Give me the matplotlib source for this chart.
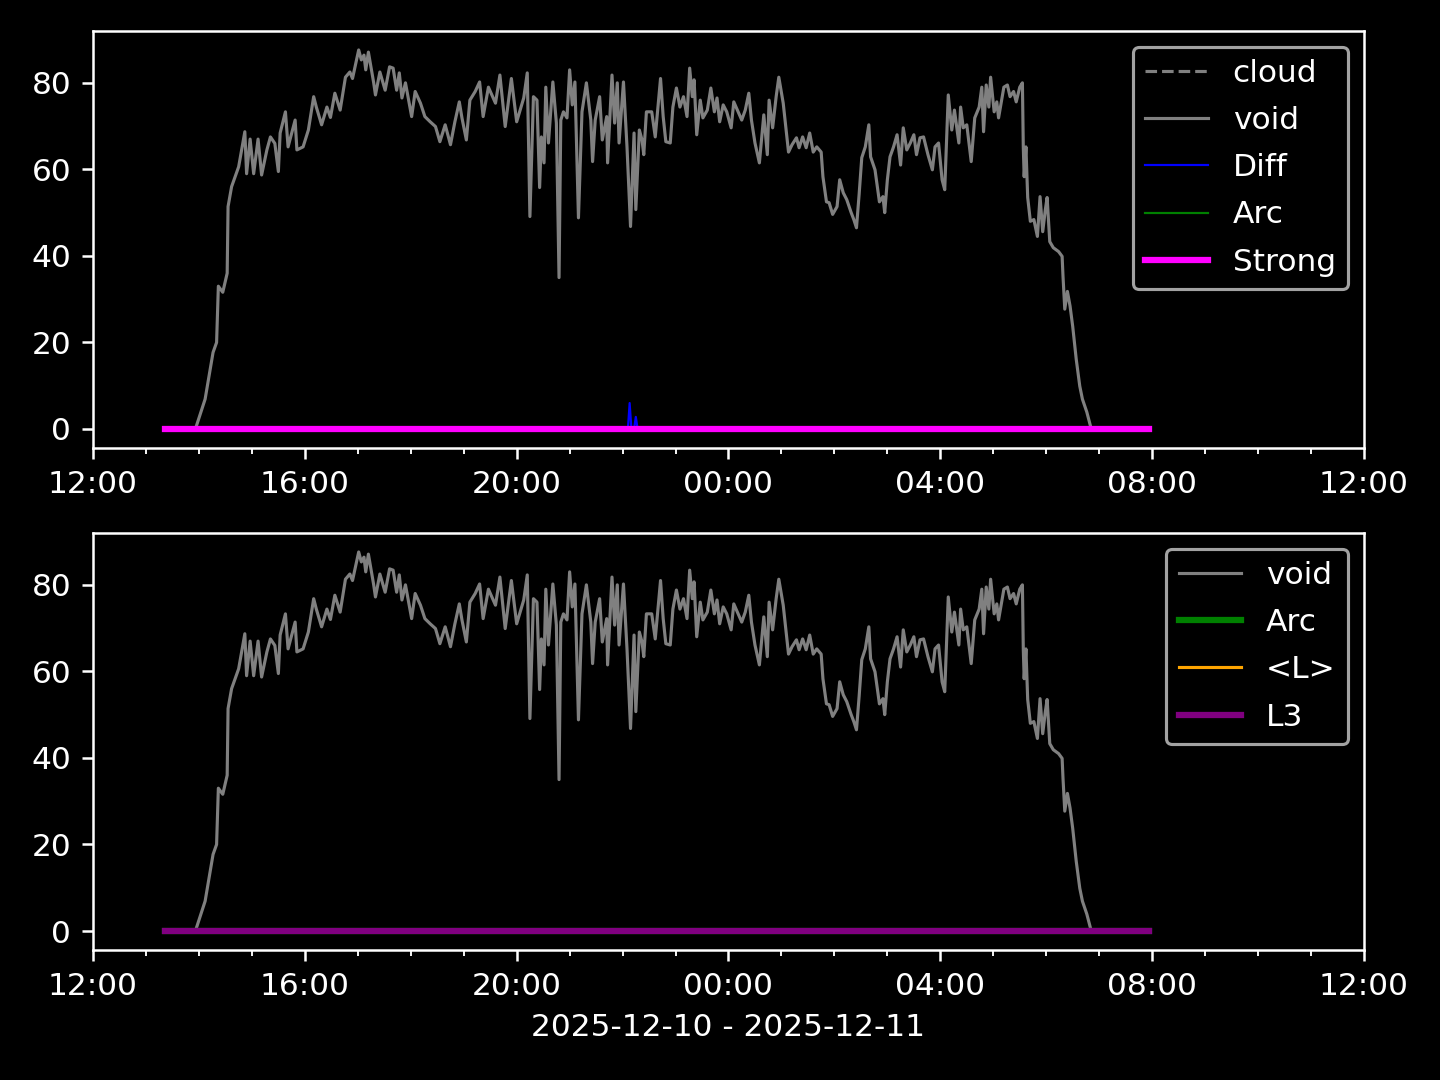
import matplotlib
import matplotlib.pyplot as plt
import matplotlib.dates as mdates
import pandas as pd

matplotlib.use('Agg')

# minutes after 2025-12-10 12:00 and the void value
void_min = [82, 116, 127, 136, 140, 142, 147, 152, 153, 157, 165, 172, 174, 178, 182,
            187, 191, 197, 201, 206, 210, 212, 218, 221, 229, 231, 238, 244, 250, 253,
            259, 265, 269, 274, 280, 286, 291, 294, 301, 304, 307, 309, 312, 318, 320,
            325, 331, 336, 340, 344, 347, 350, 354, 361, 365, 371, 376, 382, 388, 393,
            399, 405, 410, 415, 418, 423, 427, 433, 438, 442, 448, 456, 461, 467, 474,
            480, 488, 492, 495, 499, 503, 506, 508, 511, 513, 516, 521, 525, 528, 530,
            533, 537, 540, 543, 546, 550, 554, 559, 564, 566, 569, 574, 577, 582, 583,
            588, 591, 594, 596, 601, 605, 609, 613, 615, 619, 622, 624, 627, 633, 637,
            643, 646, 649, 654, 657, 661, 665, 669, 673, 676, 679, 681, 684, 688, 691,
            696, 700, 704, 707, 710, 714, 718, 723, 726, 731, 735, 739, 743, 746, 750,
            755, 760, 764, 766, 770, 774, 777, 782, 788, 792, 797, 800, 804, 808, 812,
            816, 820, 825, 827, 831, 834, 838, 843, 846, 850, 854, 859, 862, 865, 868,
            871, 875, 879, 881, 886, 891, 895, 897, 900, 903, 907, 911, 915, 918, 922,
            926, 930, 933, 937, 941, 946, 951, 954, 958, 962, 965, 969, 973, 976, 981,
            983, 986, 990, 995, 999, 1004, 1007, 1009, 1012, 1015, 1017, 1021, 1024, 1026, 1032,
            1036, 1039, 1043, 1046, 1050, 1053, 1054, 1055, 1057, 1059, 1062, 1066, 1070, 1073, 1076,
            1079, 1081, 1084, 1088, 1094, 1098, 1099, 1101, 1104, 1107, 1110, 1114, 1118, 1121, 1126,
            1131, 1196]
void_val = [0, 0, 6.9, 17.7, 20, 33, 31.6, 36, 51.4, 56, 60.6, 68.7, 59, 67, 59,
            67, 58.7, 64.5, 67.5, 66, 59.5, 68.4, 73.3, 65.2, 71.4, 64.5, 65.2, 69.1, 76.8, 74.4,
            70.3, 74.4, 72, 77.6, 73.7, 81.3, 82.5, 81, 87.6, 85.3, 86.4, 83, 87.1, 80, 77.2,
            82.5, 78.3, 83.7, 83.4, 78.3, 82.3, 76.5, 80, 72.2, 78, 75.3, 72.2, 71, 69.9, 66.4,
            70.3, 65.7, 71, 75.6, 71.9, 66.8, 76, 78, 80.2, 72.2, 79, 75.3, 81.8, 69.9, 81,
            71, 76.5, 82.3, 49.1, 76.8, 76, 55.8, 67.5, 61.5, 79, 66.1, 80.2, 70.7, 35, 71.4,
            73.3, 71.9, 83, 74.9, 80.2, 48.8, 73.3, 80, 71.4, 61.8, 71.4, 76.8, 66.8, 72.2, 61.5,
            81.8, 70.7, 80, 66.1, 80.2, 65.2, 46.8, 68.4, 50.7, 69.1, 66.8, 63.4, 73.3, 73.3, 67.5,
            81, 72.2, 66.4, 66.1, 74.4, 78.8, 74.4, 76.8, 72.2, 83.4, 76.8, 80.7, 68, 76, 71.9,
            73.7, 78.8, 73.3, 76.5, 71, 74.9, 73.3, 69.6, 75.6, 73.3, 71.4, 73.7, 77.6, 71.4, 66.1,
            61.5, 72.6, 63.4, 76, 69.6, 76.8, 81.3, 75.3, 64, 65.7, 67.3, 65, 67.5, 65, 68.4,
            64, 65.2, 64, 58.3, 52.5, 52.3, 49.6, 51.4, 57.6, 54.6, 53, 50, 48.4, 46.5, 54.2,
            62.7, 65.2, 70.3, 62.9, 59.9, 52.5, 53.7, 50, 57.6, 62.9, 65.2, 68, 61, 69.6, 64.5,
            66.1, 68, 63.4, 67.3, 67.5, 63.4, 59.9, 65.2, 66.1, 57.6, 55.3, 77.2, 69.1, 73.7, 66.1,
            74.4, 69.6, 70.3, 61.8, 71.9, 74.4, 79, 68.7, 79.5, 74.4, 81.3, 73.3, 75.6, 71.9, 79,
            79.5, 76.8, 78, 75.6, 79, 80, 65.2, 58.3, 65.2, 53.5, 48, 48.4, 44.5, 53.7, 45.6,
            50.7, 53.5, 43.3, 41.9, 41, 39.9, 35.3, 27.7, 31.8, 28.4, 23.7, 16.1, 9.9, 6.9, 3.9,
            0, 0]

diff_min = [82, 606, 608, 610, 613, 615, 617, 1196]
diff_val = [0, 0, 6, 0, 0, 2.8, 0, 0]

# series that stay at zero over the whole record
flat_min = [82, 1196]
flat_val = [0, 0]

cloud_min = []
cloud_val = []

start = pd.Timestamp('2025-12-10 12:00')


def to_time(minutes):
    return start + pd.to_timedelta(minutes, unit='m')


plt.style.use('dark_background')
fig, (ax1, ax2) = plt.subplots(2, 1, figsize=(6.4, 4.8), dpi=225)
fig.subplots_adjust(left=0.0646, right=0.9472, top=0.9713, bottom=0.1204, hspace=0.204)

# top panel
ax1.plot(to_time(cloud_min), cloud_val, color='gray', ls='--', lw=1, label='cloud')
ax1.plot(to_time(void_min), void_val, color='gray', lw=1, label='void')
ax1.plot(to_time(diff_min), diff_val, color='blue', lw=0.7, label='Diff')
ax1.plot(to_time(flat_min), flat_val, color='green', lw=0.7, label='Arc')
ax1.plot(to_time(flat_min), flat_val, color='magenta', lw=2, label='Strong')

# bottom panel
ax2.plot(to_time(void_min), void_val, color='gray', lw=1, label='void')
ax2.plot(to_time(flat_min), flat_val, color='green', lw=2, label='Arc')
ax2.plot(to_time(flat_min), flat_val, color='orange', lw=1, label='<L>')
ax2.plot(to_time(flat_min), flat_val, color='purple', lw=2, label='L3')

for ax in (ax1, ax2):
    ax.set_xlim(start, start + pd.Timedelta(hours=24))
    ax.xaxis.set_major_locator(mdates.HourLocator(byhour=range(0, 24, 4)))
    ax.xaxis.set_minor_locator(mdates.HourLocator())
    ax.xaxis.set_major_formatter(mdates.DateFormatter('%H:%M'))
    ax.legend(loc='upper right', labelspacing=0.58)

ax2.set_xlabel('2025-12-10 - 2025-12-11')

fig.savefig('out.png')
